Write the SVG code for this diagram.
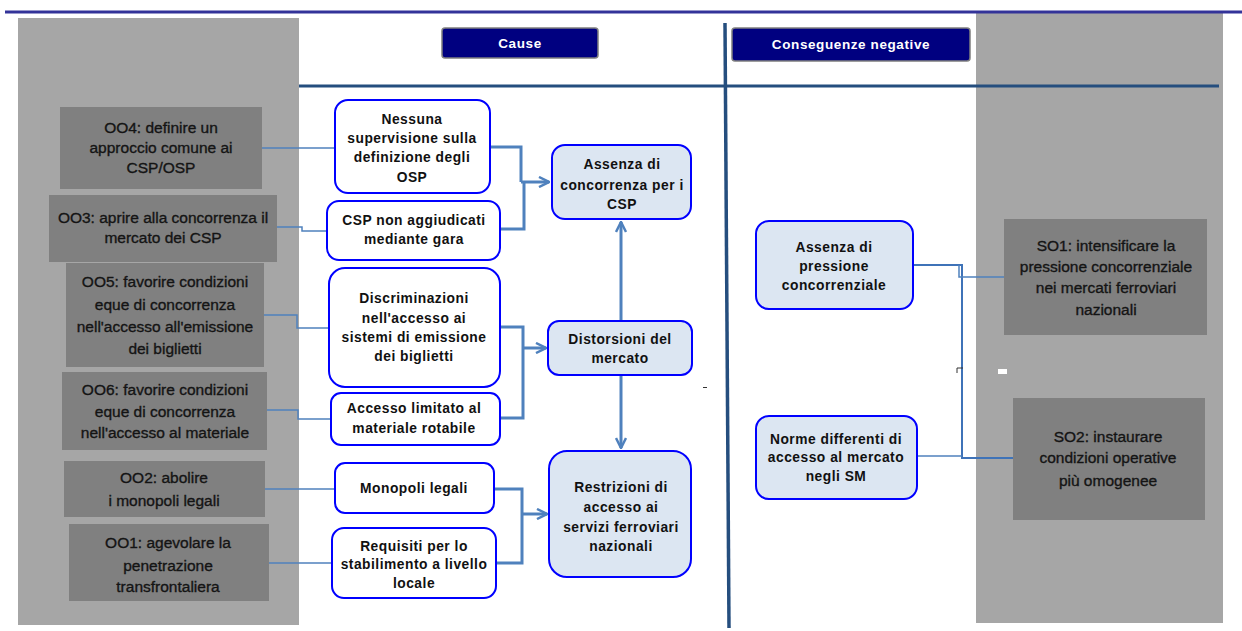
<svg xmlns="http://www.w3.org/2000/svg" width="1242" height="631" viewBox="0 0 1242 631">
<defs>
<style>
.panel{fill:#a6a6a6}
.obj{fill:#808080}
.ot{font-family:"Liberation Sans",Arial,sans-serif;font-size:15.5px;fill:#141414;stroke:#141414;stroke-width:0.35;text-anchor:middle}
.cause{fill:#ffffff;stroke:#0000ff;stroke-width:2}
.eff{fill:#dce6f2;stroke:#0000ff;stroke-width:2}
.bt{font-family:"Liberation Sans",Arial,sans-serif;font-size:13.8px;font-weight:bold;fill:#111111;text-anchor:middle;letter-spacing:0.5px}
.hdr{fill:#000080;stroke:#7f7f7f;stroke-width:1.5}
.ht{font-family:"Liberation Sans",Arial,sans-serif;font-size:13.5px;font-weight:bold;fill:#ffffff;text-anchor:middle;letter-spacing:0.6px}
.thin{fill:none;stroke:#4f81bd;stroke-width:1.5}
.thick{fill:none;stroke:#4f81bd;stroke-width:3}
.rl{fill:none;stroke:#3f73b8;stroke-width:2}
</style>
<marker id="arr" viewBox="0 0 12 12" refX="11" refY="6" markerWidth="12" markerHeight="12" markerUnits="userSpaceOnUse" orient="auto">
<path d="M1,1 L11,6 L1,11" fill="none" stroke="#4f81bd" stroke-width="2.5"/>
</marker>
</defs>
<rect width="1242" height="631" fill="#ffffff"/>
<!-- panels -->
<rect class="panel" x="18" y="18" width="281" height="607"/>
<rect class="panel" x="976" y="13" width="247" height="610"/>
<!-- frame lines -->
<line x1="5" y1="12" x2="1242" y2="12" stroke="#333399" stroke-width="3"/>
<line x1="299" y1="86" x2="1219" y2="86" stroke="#254e7e" stroke-width="3"/>
<line x1="725" y1="23" x2="729" y2="628" stroke="#254e7e" stroke-width="3.5"/>
<!-- headers -->
<g id="hdr-cause">
<rect class="hdr" x="442" y="28" width="156" height="30" rx="3"/>
<text class="ht" x="520" y="47.5">Cause</text>
</g>
<g id="hdr-conseguenze">
<rect class="hdr" x="732" y="28" width="238" height="33" rx="3"/>
<text class="ht" x="851" y="49">Conseguenze negative</text>
</g>
<!-- connectors -->
<g id="connectors">
<path class="thin" d="M262,148 L335,148"/>
<path class="thin" d="M277,227 L302,227 L302,231 L327,231"/>
<path class="thin" d="M264,315 L297,315 L297,328 L329,328"/>
<path class="thin" d="M267,410 L298,410 L298,419 L331,419"/>
<path class="thin" d="M265,489 L335,489"/>
<path class="thin" d="M269,563 L332,563"/>
<path class="thick" d="M490,147 L521,147 L521,182"/>
<path class="thick" d="M500,229 L524,229 L524,182" stroke-width="4"/>
<path class="thick" d="M521,182 L549,182" marker-end="url(#arr)"/>
<path class="thick" d="M500,327 L523,327 L523,418 L500,418"/>
<path class="thick" d="M523,348 L546,348" marker-end="url(#arr)"/>
<path class="thick" d="M494,489 L522,489 L522,563 L496,563"/>
<path class="thick" d="M522,514 L547,514" marker-end="url(#arr)"/>
<path class="thick" d="M621,321 L621,222" marker-end="url(#arr)"/>
<path class="thick" d="M621,375 L621,448" marker-end="url(#arr)"/>
<path class="rl" d="M913,265 L962,265 L962,458 L1013,458"/>
<path class="thin" d="M959,265 L959,277 L1004,277" stroke="#5b8fd0"/>
<path class="thin" d="M917,456 L962,456" stroke="#5b8fd0"/>
</g>
<!-- small artifacts -->
<path d="M957,373 L957,368 L963,368" fill="none" stroke="#333333" stroke-width="1"/>
<rect x="998" y="369" width="9" height="5" fill="#ffffff"/>
<line x1="703" y1="387.5" x2="707" y2="387.5" stroke="#333333" stroke-width="1"/>
<!-- objective boxes left -->
<g id="OO4">
<rect class="obj" x="60" y="107" width="202" height="82"/>
<text class="ot" x="161" y="133">OO4: definire un</text>
<text class="ot" x="161" y="153">approccio comune ai</text>
<text class="ot" x="161" y="173">CSP/OSP</text>
</g>
<g id="OO3">
<rect class="obj" x="49" y="195" width="228" height="67"/>
<text class="ot" x="163" y="223">OO3: aprire alla concorrenza il</text>
<text class="ot" x="163" y="243">mercato dei CSP</text>
</g>
<g id="OO5">
<rect class="obj" x="66" y="263" width="198" height="104"/>
<text class="ot" x="165" y="287">OO5: favorire condizioni</text>
<text class="ot" x="165" y="310">eque di concorrenza</text>
<text class="ot" x="165" y="332">nell'accesso all'emissione</text>
<text class="ot" x="165" y="354">dei biglietti</text>
</g>
<g id="OO6">
<rect class="obj" x="62" y="372" width="205" height="78"/>
<text class="ot" x="165" y="395">OO6: favorire condizioni</text>
<text class="ot" x="165" y="417">eque di concorrenza</text>
<text class="ot" x="165" y="438">nell'accesso al materiale</text>
</g>
<g id="OO2">
<rect class="obj" x="64" y="461" width="201" height="56"/>
<text class="ot" x="164" y="483">OO2: abolire</text>
<text class="ot" x="164" y="506">i monopoli legali</text>
</g>
<g id="OO1">
<rect class="obj" x="69" y="524" width="200" height="77"/>
<text class="ot" x="168" y="548">OO1: agevolare la</text>
<text class="ot" x="168" y="571">penetrazione</text>
<text class="ot" x="168" y="592">transfrontaliera</text>
</g>
<!-- cause boxes -->
<g id="nessuna">
<rect class="cause" x="335" y="100" width="155" height="93" rx="13"/>
<text class="bt" x="412" y="124">Nessuna</text>
<text class="bt" x="412" y="143">supervisione sulla</text>
<text class="bt" x="412" y="162">definizione degli</text>
<text class="bt" x="412" y="182">OSP</text>
</g>
<g id="csp-gara">
<rect class="cause" x="327" y="201" width="173" height="59" rx="12"/>
<text class="bt" x="414" y="225">CSP non aggiudicati</text>
<text class="bt" x="414" y="244">mediante gara</text>
</g>
<g id="discriminazioni">
<rect class="cause" x="329" y="268" width="171" height="119" rx="16"/>
<text class="bt" x="414" y="303">Discriminazioni</text>
<text class="bt" x="414" y="323">nell'accesso ai</text>
<text class="bt" x="414" y="342">sistemi di emissione</text>
<text class="bt" x="414" y="361">dei biglietti</text>
</g>
<g id="accesso">
<rect class="cause" x="331" y="393" width="169" height="52" rx="10"/>
<text class="bt" x="414" y="413">Accesso limitato al</text>
<text class="bt" x="414" y="433">materiale rotabile</text>
</g>
<g id="monopoli">
<rect class="cause" x="335" y="463" width="159" height="50" rx="10"/>
<text class="bt" x="414" y="493">Monopoli legali</text>
</g>
<g id="requisiti">
<rect class="cause" x="332" y="528" width="164" height="70" rx="12"/>
<text class="bt" x="414" y="551">Requisiti per lo</text>
<text class="bt" x="414" y="569">stabilimento a livello</text>
<text class="bt" x="414" y="588">locale</text>
</g>
<!-- effect boxes -->
<g id="assenza-csp">
<rect class="eff" x="552" y="145" width="139" height="74" rx="13"/>
<text class="bt" x="622" y="169">Assenza di</text>
<text class="bt" x="622" y="190">concorrenza per i</text>
<text class="bt" x="622" y="209">CSP</text>
</g>
<g id="distorsioni">
<rect class="eff" x="548" y="321" width="144" height="54" rx="11"/>
<text class="bt" x="620" y="344">Distorsioni del</text>
<text class="bt" x="620" y="363">mercato</text>
</g>
<g id="restrizioni">
<rect class="eff" x="549" y="451" width="142" height="126" rx="18"/>
<text class="bt" x="621" y="492">Restrizioni di</text>
<text class="bt" x="621" y="512">accesso ai</text>
<text class="bt" x="621" y="532">servizi ferroviari</text>
<text class="bt" x="621" y="551">nazionali</text>
</g>
<g id="assenza-pressione">
<rect class="eff" x="756" y="221" width="157" height="88" rx="13"/>
<text class="bt" x="834" y="252">Assenza di</text>
<text class="bt" x="834" y="271">pressione</text>
<text class="bt" x="834" y="290">concorrenziale</text>
</g>
<g id="norme">
<rect class="eff" x="756" y="416" width="161" height="83" rx="13"/>
<text class="bt" x="836" y="444">Norme differenti di</text>
<text class="bt" x="836" y="462">accesso al mercato</text>
<text class="bt" x="836" y="481">negli SM</text>
</g>
<!-- objective boxes right -->
<g id="SO1">
<rect class="obj" x="1004" y="219" width="203" height="116"/>
<text class="ot" x="1106" y="251">SO1: intensificare la</text>
<text class="ot" x="1106" y="272">pressione concorrenziale</text>
<text class="ot" x="1106" y="293">nei mercati ferroviari</text>
<text class="ot" x="1106" y="315">nazionali</text>
</g>
<g id="SO2">
<rect class="obj" x="1013" y="398" width="192" height="122"/>
<text class="ot" x="1108" y="442">SO2: instaurare</text>
<text class="ot" x="1108" y="463">condizioni operative</text>
<text class="ot" x="1108" y="486">più omogenee</text>
</g>
</svg>
